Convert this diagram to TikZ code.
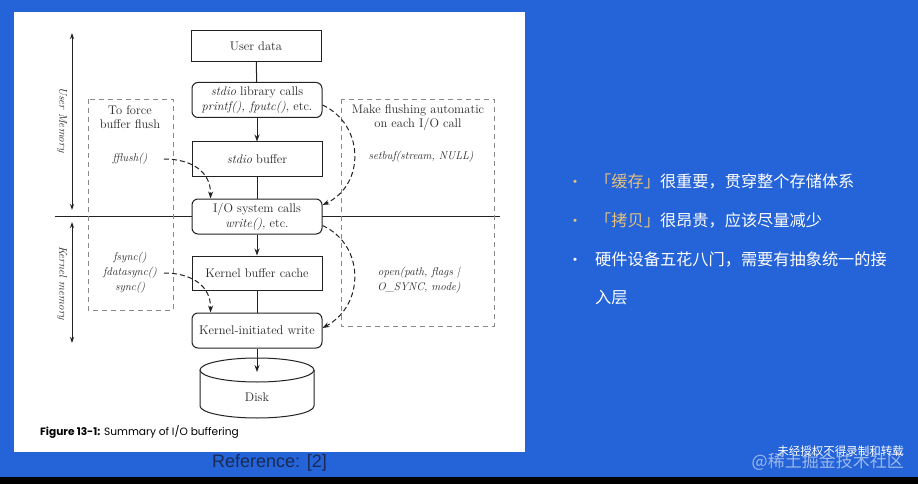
\documentclass[tikz,border=0pt]{standalone}
\usepackage{fontspec}
\newfontfamily\cjk{Noto Sans CJK SC}
\newfontfamily\capfont{Poppins}
\newfontfamily\reffont{Liberation Sans}
\usetikzlibrary{arrows.meta,calc}
\definecolor{bg}{HTML}{2463D8}
\definecolor{gold}{HTML}{E5C27F}
\definecolor{navy}{HTML}{1B2A55}
\definecolor{linec}{HTML}{222222}
\definecolor{textc}{HTML}{262626}
\definecolor{dgray}{HTML}{8A8A8A}
\begin{document}
\begin{tikzpicture}[x=1pt,y=-1pt,
  line/.style={draw=linec, line width=1pt},
  arr/.style={line, -{Stealth[length=7pt,width=5pt]}},
  darr/.style={draw=linec, line width=1pt, dash pattern=on 5pt off 3pt, -{Stealth[length=7pt,width=5pt]}},
  dbox/.style={draw=dgray, line width=0.8pt, dash pattern=on 5pt off 4pt},
  box/.style={line, fill=white, minimum width=130pt, minimum height=34pt, inner sep=0pt,
    font=\fontsize{12.5}{15}\selectfont, text=textc, align=center},
  rbox/.style={box, rounded corners=6pt, minimum height=35pt},
  lab/.style={font=\fontsize{12.5}{14}\selectfont, text=textc, align=center, inner sep=0pt},
  ilab/.style={font=\fontsize{11.2}{15}\selectfont\itshape, text=textc, align=center, inner sep=0pt},
  cj/.style={anchor=west, font=\cjk\fontsize{16.2}{19}\selectfont, text=white, inner sep=0pt},
  bul/.style={anchor=base, font=\cjk\fontsize{15}{18}\selectfont, inner sep=0pt}
]
\useasboundingbox (0,0) rectangle (918,484);
\fill[bg] (0,0) rectangle (918,484);
\fill[black] (0,477) rectangle (918,484);
\fill[white] (14,12) rectangle (525,452);

% memory divider
\coordinate (hl) at (55,216);
\coordinate (hr) at (500,216);
\draw[line] (hl) -- (hr);

% dashed boxes
\draw[dbox] (88,99) rectangle (173,310);
\draw[dbox] (341,99) rectangle (494,326);

% memory arrows
\coordinate (um1) at (72,33);
\coordinate (um2) at (72,210);
\coordinate (km1) at (72,222);
\coordinate (km2) at (72,343);
\draw[line, {Stealth[length=6pt,width=4pt]}-{Stealth[length=6pt,width=4pt]}] (um1) -- (um2);
\draw[line, {Stealth[length=6pt,width=4pt]}-{Stealth[length=6pt,width=4pt]}] (km1) -- (km2);
\node[ilab, rotate=-90] (uml) at (62,120) {User Memory};
\node[ilab, rotate=-90] (kml) at (62,283) {Kernel memory};

% main boxes
\node[box, minimum height=31pt] (ud) at (256,46) {User data};
\node[rbox] (lib) at (257,100) {\textit{stdio} library calls\\ \textit{printf(), fputc()}, etc.};
\node[box] (sbuf) at (257,159) {\textit{stdio} buffer};
\node[rbox] (ios) at (257,216.5) {I/O system calls\\ \textit{write()}, etc.};
\node[box] (kbc) at (257,273) {Kernel buffer cache};
\node[rbox] (kiw) at (257,330.5) {Kernel-initiated write};

% disk
\draw[line, fill=white] (200,370) -- (200,406) arc[start angle=180, end angle=360, x radius=57pt, y radius=12pt] -- (314,370);
\draw[line, fill=white] (257,370) ellipse [x radius=57pt, y radius=12pt];
\coordinate (dtop) at (257,372);
\node[lab] (disk) at (257,397) {Disk};

% solid connectors
\draw[line] (ud) -- (lib);
\draw[arr] (lib) -- (sbuf);
\draw[line] (sbuf) -- (ios);
\draw[arr] (ios) -- (kbc);
\draw[line] (kbc) -- (kiw);
\draw[arr] (kiw) -- (dtop);

% side texts
\node[lab] (tf) at (130,117) {To force\\buffer flush};
\node[ilab] (ff) at (130,159) {fflush()};
\node[ilab] (fs) at (130,273) {fsync()\\fdatasync()\\sync()};
\node[lab] (mf) at (418,118) {Make flushing automatic\\on each I/O call};
\node[ilab] (sb) at (421,157) {setbuf(stream, NULL)};
\node[ilab] (op) at (419,280.5) {open(path, flags |\\O\_SYNC, mode)};

% dashed connectors
\draw[darr] (164,159) .. controls (192,159) and (211,172) .. ($(ios.north west)+(19,0)$);
\draw[darr] (164,273) .. controls (192,273) and (211,286) .. ($(kiw.north west)+(19,0)$);
\draw[darr] ($(lib.east)+(0,5)$) .. controls (365,125) and (365,185) .. ($(ios.east)+(0,-11.5)$);
\draw[darr] ($(ios.east)+(0,9)$) .. controls (365,245) and (365,305) .. ($(kiw.east)+(0,-2.5)$);

% caption
\node[anchor=west, inner sep=0pt, text=black, font=\capfont\fontsize{10.6}{13}\selectfont] (cap) at (40,432) {\textbf{Figure 13-1:} Summary of I/O buffering};

% reference
\node[anchor=west, inner sep=0pt, text=navy, font=\reffont\fontsize{18}{21}\selectfont] (ref) at (212,463) {Reference: [2]};

% bullets
\node[cj] (b1) at (595,182) {\textcolor{gold}{「缓存」}很重要，贯穿整个存储体系};
\node[cj] (b2) at (595,220) {\textcolor{gold}{「拷贝」}很昂贵，应该尽量减少};
\node[cj] (b3) at (595,260) {硬件设备五花八门，需要有抽象统一的接};
\node[cj] (b4) at (595,298) {入层};
\node[bul, text=gold] (d1) at ($(b1.base west)+(-20,0)$) {•};
\node[bul, text=gold] (d2) at ($(b2.base west)+(-20,0)$) {•};
\node[bul, text=white] (d3) at ($(b3.base west)+(-20,0)$) {•};

% watermark
\node[anchor=east, inner sep=0pt, text=white, opacity=0.55, font=\cjk\fontsize{17}{20}\selectfont] (wm1) at (904,462) {@稀土掘金技术社区};
\node[anchor=east, inner sep=0pt, text=white, font=\cjk\fontsize{11.5}{13}\selectfont] (wm2) at (904,451) {未经授权不得录制和转载};
\end{tikzpicture}
\end{document}
